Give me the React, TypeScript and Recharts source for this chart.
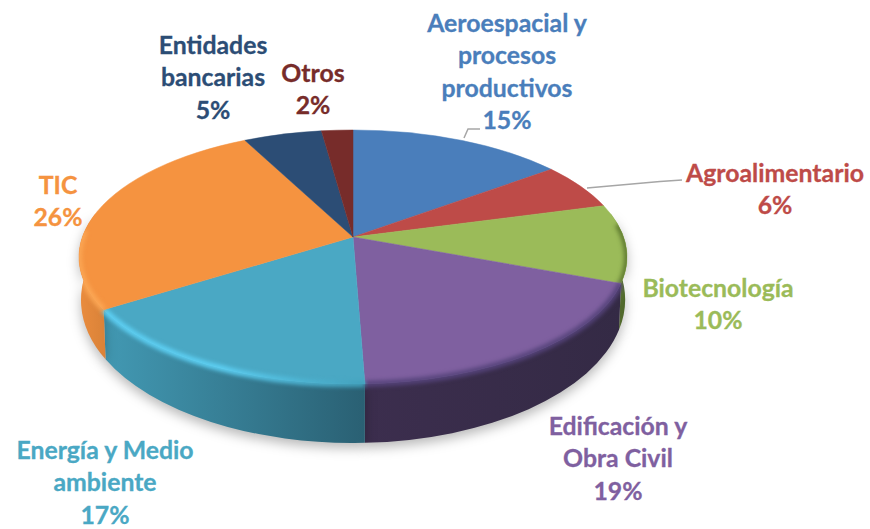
import { Pie, PieChart } from "recharts";

const categories = [
  "Aeroespacial y procesos productivos",
  "Agroalimentario",
  "Biotecnología",
  "Edificación y Obra Civil",
  "Energía y Medio ambiente",
  "TIC",
  "Entidades bancarias",
  "Otros",
];
const shares = [15, 6, 10, 19, 17, 26, 5, 2];
const topColors = ["#4a7ebb", "#be4b48", "#9bbb59", "#7f60a0", "#4aa8c4", "#f59340", "#2c4d75", "#772c2a"];
const wallLeft = ["#3a6391", "#8f3836", "#7b9547", "#3c2e4e", "#4299b3", "#ea8c3e", "#213a58", "#592120"];
const wallRight = ["#3a6391", "#8f3836", "#4f6a2a", "#342a45", "#2a6073", "#d98238", "#213a58", "#592120"];
const rimLeft = ["#3a6391", "#8f3836", "#5f7a30", "#55437a", "#5dd0f4", "#fba654", "#213a58", "#592120"];
const rimRight = ["#3a6391", "#8f3836", "#5f7a30", "#55437a", "#42a0bb", "#fba654", "#213a58", "#592120"];

// label block for each slice: wrapped lines, centre x, first baseline
const labelLines = [
  ["Aeroespacial y", "procesos", "productivos", "15%"],
  ["Agroalimentario", "6%"],
  ["Biotecnología", "10%"],
  ["Edificación y", "Obra Civil", "19%"],
  ["Energía y Medio", "ambiente", "17%"],
  ["TIC", "26%"],
  ["Entidades", "bancarias", "5%"],
  ["Otros", "2%"],
];
const labelX = [507, 775, 718, 618, 105, 58, 213, 313];
const labelY = [32, 182, 297, 435, 459, 194, 54, 82];
const leaders: Record<number, string> = {
  0: "M464 138 L468 129 L480 129",
  1: "M587 188 L660 181.5 L682 180",
};

const CX = 353;
const APEX_Y = 237;
const TOP = { cy: 257, rx: 274, ry: 127 };
const BOTTOM = { cy: 300, rx: 272, ry: 143 };
const WALL_FROM = 70;
const WALL_TO = 290;

const rad = (d: number) => (d * Math.PI) / 180;

// recharts angle -> angle on the tilted rim (perspective squeezes the far side)
const rimAngle = (deg: number) => {
  const theta = 90 - deg;
  const k = theta <= 180 ? 0.84 : 0.92;
  const half = rad(theta / 2);
  let t = (2 * Math.atan2(k * Math.sin(half), Math.cos(half)) * 180) / Math.PI;
  if (t < 0) t += 360;
  // the near side of the reference leans a little to the right
  const lean = Math.cos(rad((theta - 180) * 1.5));
  if (Math.abs(theta - 180) < 60) t -= 2.5 * lean;
  return t;
};

const pt = (e: typeof TOP, t: number) => ({
  x: CX + e.rx * Math.sin(rad(t)),
  y: e.cy - e.ry * Math.cos(rad(t)),
});

const arcTo = (e: typeof TOP, from: number, to: number) => {
  const p = pt(e, to);
  const large = Math.abs(to - from) > 180 ? 1 : 0;
  const sweep = to > from ? 1 : 0;
  return `A${e.rx} ${e.ry} 0 ${large} ${sweep} ${p.x} ${p.y}`;
};

const ellipsePath = (e: typeof TOP) =>
  `M${CX - e.rx} ${e.cy} a${e.rx} ${e.ry} 0 1 0 ${e.rx * 2} 0 a${e.rx} ${e.ry} 0 1 0 ${-e.rx * 2} 0 Z`;

const WallSlice = (props: any) => {
  const i = props.index;
  const t1 = Math.max(rimAngle(props.startAngle), WALL_FROM);
  const t2 = Math.min(rimAngle(props.endAngle), WALL_TO);
  if (t2 <= t1) return <g />;
  const a = pt(TOP, t1);
  const b = pt(BOTTOM, t2);
  const d = `M${a.x} ${a.y} ${arcTo(TOP, t1, t2)} L${b.x} ${b.y} ${arcTo(BOTTOM, t2, t1)} Z`;
  const id = `wall-${i}`;
  // gradient runs left to right on screen
  return (
    <g style={{ filter: "drop-shadow(0px 5px 6px rgba(0,0,0,0.28))" }}>
      <defs>
        <linearGradient id={id} x1="0" x2="1" y1="0" y2="0">
          <stop offset="0%" stopColor={wallLeft[i]} />
          <stop offset="100%" stopColor={wallRight[i]} />
        </linearGradient>
      </defs>
      <path d={d} fill={`url(#${id})`} />
    </g>
  );
};

const TopSlice = (props: any) => {
  const i = props.index;
  const t1 = rimAngle(props.startAngle);
  const t2 = rimAngle(props.endAngle);
  const a = pt(TOP, t1);
  const d = `M${CX} ${APEX_Y} L${a.x} ${a.y} ${arcTo(TOP, t1, t2)} Z`;
  const r1 = Math.max(t1, WALL_FROM + 5);
  const r2 = Math.min(t2, WALL_TO - 8);
  const ra = pt(TOP, r1);
  return (
    <g>
      <defs>
        <linearGradient id={`rim-${i}`} x1="0" x2="1" y1="0" y2="0">
          <stop offset="0%" stopColor={rimLeft[i]} />
          <stop offset="45%" stopColor={rimLeft[i]} />
          <stop offset="100%" stopColor={rimRight[i]} />
        </linearGradient>
        {/* keeps the blurred rim inside the solid's outline */}
        <clipPath id={`solid-${i}`}>
          <path d={ellipsePath(TOP)} />
          <path d={ellipsePath(BOTTOM)} />
        </clipPath>
      </defs>
      <path d={d} fill={topColors[i]} stroke={topColors[i]} strokeWidth={0.5} />
      {r2 > r1 && (
        <g clipPath={`url(#solid-${i})`}>
          <path
            d={`M${ra.x} ${ra.y} ${arcTo(TOP, r1, r2)}`}
            fill="none"
            stroke={`url(#rim-${i})`}
            strokeWidth={6}
            style={{ filter: "blur(2px)" }}
          />
        </g>
      )}
    </g>
  );
};

const SliceLabel = (props: any) => {
  const i = props.index;
  return (
    <g>
      {leaders[i] && <path d={leaders[i]} fill="none" stroke="#a6a6a6" strokeWidth={1.5} />}
      <text
        textAnchor="middle"
        fontFamily="Lato, sans-serif"
        fontWeight={700}
        fontSize={24.8}
        fill={topColors[i]}
        stroke={topColors[i]}
        strokeWidth={0.3}
      >
        {labelLines[i].map((line, n) => (
          <tspan key={n} x={labelX[i]} y={labelY[i] + n * 32.3}>
            {line}
          </tspan>
        ))}
      </text>
    </g>
  );
};

const data = categories.map((name, i) => ({ name, value: shares[i], fill: topColors[i] }));

export default function App() {
  return (
    <div style={{ position: "absolute", left: 0, top: 0, width: 870, height: 529, background: "#fff" }}>
      <PieChart width={870} height={529} margin={{ top: 0, right: 0, bottom: 0, left: 0 }}>
        <Pie
          data={data}
          dataKey="value"
          nameKey="name"
          cx={CX}
          cy={APEX_Y}
          outerRadius={TOP.rx}
          startAngle={90}
          endAngle={-270}
          paddingAngle={0}
          stroke="none"
          isAnimationActive={false}
          shape={WallSlice}
          label={false}
          labelLine={false}
        />
        <Pie
          data={data}
          dataKey="value"
          nameKey="name"
          cx={CX}
          cy={APEX_Y}
          outerRadius={TOP.rx}
          startAngle={90}
          endAngle={-270}
          paddingAngle={0}
          stroke="none"
          isAnimationActive={false}
          shape={TopSlice}
          label={SliceLabel}
          labelLine={false}
        />
      </PieChart>
    </div>
  );
}
